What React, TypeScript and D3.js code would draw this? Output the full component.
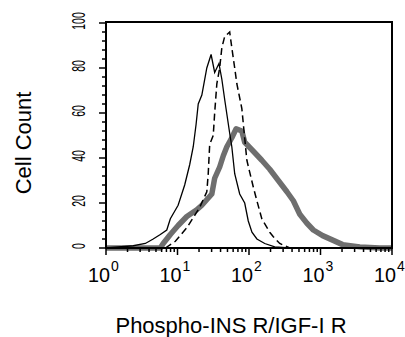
import * as d3 from 'd3';

// histogram: fluorescence intensity vs cell count
const solidX = [1, 2.4, 3.55, 4.57, 5.75, 7.08, 7.94, 10.2, 12.6, 14.8, 16.6, 18.2, 19.5, 21.9, 25.7, 29.5, 33.1, 38.0, 41.7, 45.7, 53.7, 57.5, 63.1, 74.1, 87.1, 97.7, 110, 129, 166, 229, 372, 10000];
const solidY = [0, 1, 2, 4, 6, 8, 13, 19, 28, 37, 45, 55, 64, 68, 80, 86, 78, 82, 75, 66, 51, 45, 33, 24, 20, 12, 7, 4, 2, 0.5, 0, 0];

const dashedX = [6.76, 9.33, 13.5, 20.4, 25.7, 26.9, 28.2, 31.6, 33.1, 35.5, 38.9, 41.7, 45.7, 53.7, 57.5, 63.1, 67.6, 79.4, 93.3, 115, 129, 151, 195, 219, 269, 372];
const dashedY = [0, 3, 9, 18, 25, 33, 46, 50, 60, 73, 80, 89, 94, 96, 89, 80, 73, 62, 39, 27, 21, 13, 7, 5, 2, 0];

const grayX = [1, 5.75, 6.31, 7.94, 10.2, 13.5, 18.6, 21.9, 30.2, 33.1, 38.9, 43.7, 49.0, 57.5, 66.1, 79.4, 87.1, 115, 151, 195, 257, 339, 417, 513, 646, 794, 1070, 1480, 2040, 3550, 6760, 10000];
const grayY = [0, 0, 2, 6, 10, 14, 17, 19, 24, 31, 36, 41, 45, 49, 53, 52, 47, 43, 39, 35, 30, 25, 21, 15, 11, 8, 5.5, 3.5, 1.5, 0.5, 0, 0];

const yTicks = [0, 20, 40, 60, 80, 100];
const xDecades = [0, 1, 2, 3, 4];

const W = 405;
const H = 337;

export default function App() {
  const x = d3.scaleLog().domain([1, 1e4]).range([106, 392]);
  const y = d3.scaleLinear().domain([0, 100]).range([248, 23]);

  const line = d3
    .line<[number, number]>()
    .x((d) => x(d[0]))
    .y((d) => y(d[1]));

  const zip = (xs: number[], ys: number[]) => xs.map((v, i) => [v, ys[i]] as [number, number]);

  const yMinor = d3.range(0, 101, 4);
  const xMinor: number[] = [];
  for (let d = 0; d < 4; d++) for (let k = 2; k < 10; k++) xMinor.push(k * Math.pow(10, d));

  const font = 'Liberation Sans, Arial, Helvetica, sans-serif';

  return (
    <svg width={W} height={H} style={{ position: 'absolute', left: 0, top: 0, background: '#fff' }} fontFamily={font}>
      {/* curves */}
      <path d={line(zip(grayX, grayY)) || ''} fill="none" stroke="#6e6e6e" strokeWidth={5.5} strokeLinejoin="round" />
      <path d={line(zip(dashedX, dashedY)) || ''} fill="none" stroke="#000" strokeWidth={1.5} strokeDasharray="7,4" />
      <path d={line(zip(solidX, solidY)) || ''} fill="none" stroke="#000" strokeWidth={1.3} />

      {/* frame */}
      <rect x={x(1)} y={y(100) - 1} width={x(1e4) - x(1)} height={y(0) - y(100) + 1} fill="none" stroke="#000" strokeWidth={2} />

      {/* y ticks */}
      {yMinor.map((v) => (
        <line key={'ym' + v} x1={x(1) - (v % 20 === 0 ? 7 : 4)} x2={x(1)} y1={y(v)} y2={y(v)} stroke="#000" strokeWidth={1.5} />
      ))}
      {yTicks.map((v) => (
        <text
          key={'yl' + v}
          transform={`translate(85,${y(v) - 2}) rotate(-90)`}
          textAnchor="middle"
          fontSize={18}
          textLength={String(v).length * 5.8}
          lengthAdjust="spacingAndGlyphs"
        >
          {v}
        </text>
      ))}

      {/* x ticks */}
      {xMinor.map((v) => (
        <line key={'xm' + v} x1={x(v)} x2={x(v)} y1={y(0)} y2={y(0) + 4} stroke="#000" strokeWidth={1.5} />
      ))}
      {xDecades.map((d) => (
        <line key={'xM' + d} x1={x(Math.pow(10, d))} x2={x(Math.pow(10, d))} y1={y(0)} y2={y(0) + 7} stroke="#000" strokeWidth={1.5} />
      ))}
      {xDecades.map((d) => (
        <g key={'xl' + d} transform={`translate(${x(Math.pow(10, d))},0)`}>
          <text x={-18} y={282} fontSize={21} textLength={22} lengthAdjust="spacingAndGlyphs">
            10
          </text>
          <text x={5} y={271} fontSize={14}>
            {d}
          </text>
        </g>
      ))}

      {/* axis titles */}
      <text transform={`translate(31,143) rotate(-90)`} textAnchor="middle" fontSize={22}>
        Cell Count
      </text>
      <text x={231} y={333} textAnchor="middle" fontSize={22}>
        Phospho-INS R/IGF-I R
      </text>
    </svg>
  );
}
